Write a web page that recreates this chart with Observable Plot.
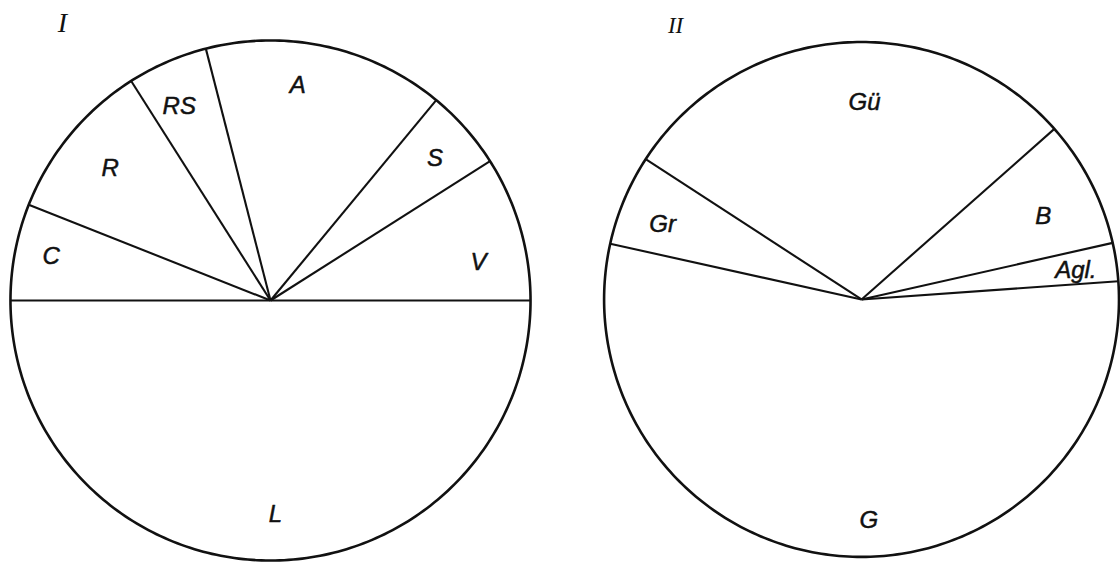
<!DOCTYPE html>
<html><head><meta charset="utf-8">
<script src="https://cdn.jsdelivr.net/npm/d3@7"></script>
<script src="https://cdn.jsdelivr.net/npm/@observablehq/plot@0.6"></script>
<style>body{margin:0;background:#fff}#chart{width:1120px;height:562px}</style>
</head><body><div id="chart"></div>
<script>
// ---- data (shares in percent) ----
const pieTitles = ["I", "II"];
const pieI_categories = ["C", "R", "RS", "A", "S", "V", "L"];
const pieI_values = [6, 10, 5, 15, 5, 9, 50];
const pieII_categories = ["Gr", "Gü", "B", "Agl.", "G"];
const pieII_values = [5.7, 29.3, 8.0, 2.4, 54.6];

// ---- layout (units of one nominal radius) ----
const W = 1120, H = 562, U = 259;
const layout = [
  {title: pieTitles[0], cats: pieI_categories, vals: pieI_values, cx: 0, cy: 0, r: 1.004, start: 180,
   titleDx: -0.803, titleDy: 1.071, titleSize: 28},
  {title: pieTitles[1], cats: pieII_categories, vals: pieII_values, cx: 2.282, cy: 0.004, r: 0.994, start: 167.5,
   titleDx: -0.718, titleDy: 1.056, titleSize: 23}
];
// label placement: [angle shift in degrees, radius fraction]
const labelPlace = {
  C: [-0.6, 0.86], R: [0, 0.80], RS: [1.8, 0.824], A: [5.4, 0.833], S: [-0.5, 0.837], V: [-5.8, 0.813], L: [1.3, 0.823],
  Gr: [2, 0.826], "Gü": [-5.1, 0.766], B: [-2.6, 0.776], "Agl.": [-0.7, 0.84], G: [6.1, 0.857]
};

const rad = d => d * Math.PI / 180;
const circle = [], spokes = [], labels = [], titles = [];
for (const p of layout) {
  const total = d3.sum(p.vals);
  for (let a = 0; a <= 360; a += 1) circle.push({pie: p.title, x: p.cx + p.r * Math.cos(rad(a)), y: p.cy + p.r * Math.sin(rad(a))});
  let acc = 0;
  p.cats.forEach((c, i) => {
    const a0 = p.start - 360 * acc / total;
    acc += p.vals[i];
    const a1 = p.start - 360 * acc / total;
    spokes.push({cx: p.cx, cy: p.cy, x: p.cx + p.r * Math.cos(rad(a0)), y: p.cy + p.r * Math.sin(rad(a0))});
    const [da, f] = labelPlace[c] || [0, 0.82];
    const am = (a0 + a1) / 2 + da;
    labels.push({label: c, x: p.cx + f * p.r * Math.cos(rad(am)), y: p.cy + f * p.r * Math.sin(rad(am))});
  });
  titles.push({label: p.title, x: p.cx + p.titleDx, y: p.cy + p.titleDy, size: p.titleSize});
}

const chart = Plot.plot({
  width: W, height: H, margin: 0,
  x: {domain: [-270 / U, (W - 270) / U], axis: null},
  y: {domain: [-(H - 300) / U, 300 / U], axis: null},
  marks: [
    Plot.line(circle, {x: "x", y: "y", z: "pie", stroke: "#111", strokeWidth: 2.6}),
    Plot.link(spokes, {x1: "cx", y1: "cy", x2: "x", y2: "y", stroke: "#111", strokeWidth: 2.1}),
    Plot.text(labels, {x: "x", y: "y", text: "label", fontFamily: "Liberation Sans", fontStyle: "italic", fontSize: 24,
      fill: "#111", stroke: "#111", strokeWidth: 0.5}),
    Plot.text(titles, {x: "x", y: "y", text: "label", fontFamily: "Liberation Serif", fontStyle: "italic", fontSize: d => d.size, fill: "#111"})
  ]
});
document.getElementById("chart").append(chart);
</script>
</body></html>
